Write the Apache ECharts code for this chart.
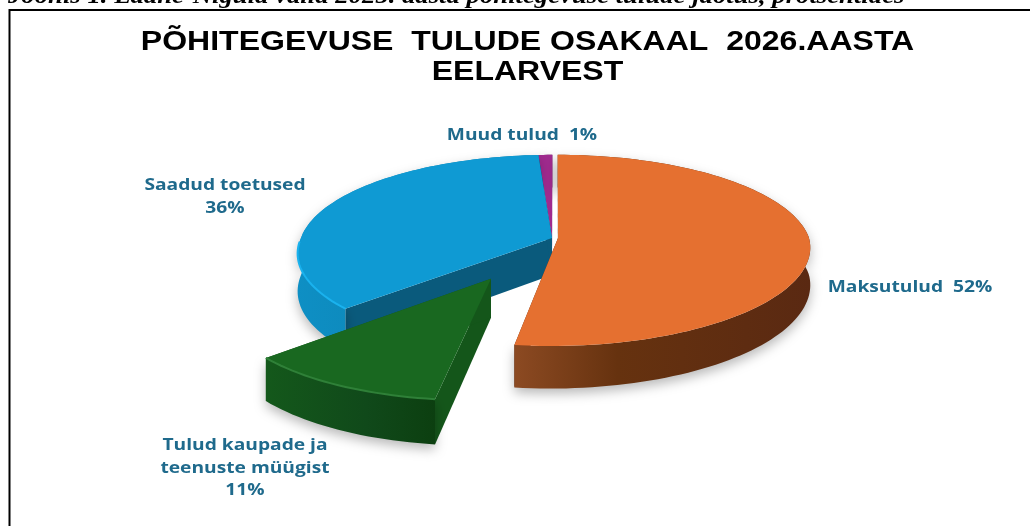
<!DOCTYPE html>
<html><head><meta charset="utf-8">
<style>html,body{margin:0;padding:0;background:#fff}#c{width:1030px;height:526px}</style>
<script src="https://cdn.jsdelivr.net/npm/echarts@6/dist/echarts.min.js"></script>
</head><body><div id="c"></div>
<script>
const categories = ['Maksutulud', 'Tulud kaupade ja\nteenuste müügist', 'Saadud toetused', 'Muud tulud'];
const shares = [52, 11, 36, 1];
const separators = ['  ', '\n', '\n', '  '];

const pull = [[0.012, 0], [-0.229, 0.41], [-0.012, 0], [-0.012, 0]];
const paintOrder = [2, 3, 1, 0];
const labelPos = [[910, 287], [245, 468], [225, 197], [522, 135]];
const palette = [
  {top:'#e57030', edge:null, cut:'#5a2a12', wall:[[0,'#8c4a22'],[0.35,'#66320f'],[1,'#5a2912']]},
  {top:'#196820', edge:'#2f8038', cut:'#14561a', wall:[[0,'#14581b'],[0.6,'#10491a'],[1,'#0c3f10']]},
  {top:'#0f9ad3', edge:'#1ab2ee', cut:'#0a5a7c', wall:[[0,'#0e8fc4'],[1,'#0c7ca8']]},
  {top:'#a02a8e', edge:null, cut:'#6c1c60', wall:[[0,'#6c1c60'],[1,'#6c1c60']]}
];
const CX = 555, CY = 238, A = 251, B = 94, K = 0.13, H = 37, SKEW = 8;
const total = shares.reduce((a, b) => a + b, 0);

function proj(X, Z, h) {
  const s = 1 / (1 - Z * K);
  return [CX + X * A * s - SKEW * Math.max(Z, 0), CY + Z * B * s + h * s];
}
function renderSlice(params, api) {
  const i = params.dataIndex;
  let before = 0;
  for (let j = 0; j < i; j++) before += shares[j];
  const t0 = before / total * 2 * Math.PI;
  const t1 = (before + api.value(0)) / total * 2 * Math.PI;
  const ex = pull[i][0], ez = pull[i][1];
  const zOf = t => ez - Math.cos(t);
  const arc = h => {
    const pts = [];
    const n = Math.max(2, Math.ceil((t1 - t0) / 0.03));
    for (let k = 0; k <= n; k++) {
      const t = t0 + (t1 - t0) * k / n;
      pts.push(proj(ex + Math.sin(t), zOf(t), h));
    }
    return pts;
  };
  const apexT = proj(ex, ez, 0), apexB = proj(ex, ez, H);
  const top = arc(0), bot = arc(H);
  const c = palette[i], z = paintOrder[i] * 10;
  const children = [
    {type:'polygon', z2:z, shape:{points:[apexT, top[0], bot[0], apexB]}, style:{fill:c.cut}},
    {type:'polygon', z2:z, shape:{points:[apexT, top[top.length-1], bot[bot.length-1], apexB]}, style:{fill:c.cut}},
    {type:'polygon', z2:z+1, shape:{points: top.concat(bot.slice().reverse())},
     style:{fill:new echarts.graphic.LinearGradient(0,0,1,0,c.wall.map(w=>({offset:w[0],color:w[1]}))),
            shadowBlur:12, shadowColor:'rgba(0,0,0,0.28)', shadowOffsetY:5}},
    {type:'polygon', z2:z+2, shape:{points:[apexT].concat(top)}, style:{fill:c.top}},
    {type:'text', z2:100, x:labelPos[i][0], y:labelPos[i][1], scaleX:1.2,
     style:{text:categories[i] + separators[i] + api.value(0) + '%', align:'center', verticalAlign:'middle',
            textAlign:'center', textVerticalAlign:'middle', lineHeight:22.5,
            font:'bold 16px "Open Sans"', fill:'#1f6a8c'}}
  ];
  if (c.edge) {
    const front = top.filter(p => p[1] > CY + 2);
    children.push({type:'polyline', z2:z+3, shape:{points:front}, style:{stroke:c.edge, lineWidth:2, fill:null}});
  }
  return {type:'group', children};
}
const chart = echarts.init(document.getElementById('c'), null, {renderer:'canvas'});
chart.setOption({
  animation:false,
  backgroundColor:'#fff',
  graphic:[
    {type:'text', x:527.5, y:58, scaleX:1.186, z:10,
     style:{text:'PÕHITEGEVUSE  TULUDE OSAKAAL  2026.AASTA\nEELARVEST', align:'center', verticalAlign:'middle',
            textAlign:'center', textVerticalAlign:'middle', lineHeight:30,
            font:'bold 27px "Liberation Sans"', fill:'#000'}},
    {type:'text', x:8, y:-15, scaleX:1.113, z:10, style:{text:'Joonis 1. Lääne-Nigula valla 2025. aasta põhitegevuse tulude jaotus, protsentides',
      font:'italic bold 24px "Liberation Serif"', fill:'#000'}},
    {type:'polyline', z:11, shape:{points:[[1032,10],[9.5,10],[9.5,530]]}, style:{stroke:'#000', lineWidth:2, fill:null}}
  ],
  series:[{type:'custom', coordinateSystem:'none', renderItem:renderSlice, silent:true,
           data:shares.map(v=>[v])}]
});
</script></body></html>
